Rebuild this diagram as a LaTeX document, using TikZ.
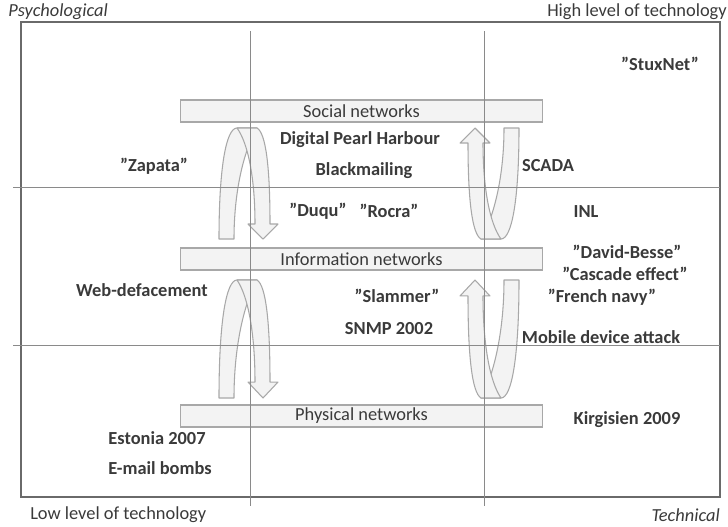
\documentclass[tikz,border=0pt]{standalone}
\usepackage{fontspec}
\setmainfont{Carlito}
\definecolor{txt}{HTML}{3A3A3A}
\definecolor{gridgray}{HTML}{8A8A8A}
\definecolor{boxgray}{HTML}{6A6A6A}
\definecolor{barfill}{HTML}{F3F3F3}
\definecolor{bardraw}{HTML}{A8A8A8}
\tikzset{
  lbl/.style={text=txt,font=\bfseries\fontsize{13.8}{16}\selectfont,inner sep=0pt},
  plain/.style={text=txt,font=\fontsize{13.8}{16}\selectfont,inner sep=0pt},
  slant/.style={text=txt,font=\itshape\fontsize{13.8}{16}\selectfont,inner sep=0pt},
  netbar/.style={draw=bardraw,fill=barfill,line width=0.9pt,text=txt,
    font=\fontsize{13.8}{16}\selectfont,minimum width=272pt,minimum height=16.5pt,inner sep=0pt},
  ribbon/.style={draw=bardraw,fill=barfill,line width=0.8pt,line join=round},
  gridline/.style={draw=gridgray,line width=0.6pt},
  loopdown/.pic={
    \filldraw[ribbon] (0,111) .. controls (0,40) and (7,0) .. (18,0) -- (38,0)
      .. controls (26,20) and (15,60) .. (15,111) -- cycle;
    \filldraw[ribbon] (18,0) -- (38,0) .. controls (47,5) and (51,40) .. (51,96)
      -- (59,96) -- (44,111) -- (29,96) -- (36,96)
      .. controls (36,50) and (29,15) .. (18,0) -- cycle;
  }
}
\begin{document}
\begin{tikzpicture}[x=0.75pt,y=-0.75pt]
  \useasboundingbox (0,0) rectangle (728,526);
  % frame
  \draw[boxgray,line width=1.1pt] (21,22) rectangle (720,497);
  % the three network layers
  \node[netbar] (social) at (361.5,111) {Social networks};
  \node[netbar] (info) at (361.5,259) {Information networks};
  \node[netbar] (phys) at (361.5,416) {Physical networks};
  % loops between layers
  \pic at (219,128) {loopdown};
  \pic[yscale=1.063] at (219,280) {loopdown};
  \pic[rotate=180] at (519,239) {loopdown};
  \pic[rotate=180,yscale=1.063] at (519,398) {loopdown};
  % grid
  \draw[gridline] (250,31) -- (250,506);
  \draw[gridline] (484,31) -- (484,506);
  \draw[gridline] (13,187) -- (720,187);
  \draw[gridline] (13,345) -- (720,345);
  % corner labels
  \node[slant,anchor=west] (psy) at (8,12) {Psychological};
  \node[plain,anchor=east] (high) at (727,12) {High level of technology};
  \node[plain,anchor=west] (low) at (30,515) {Low level of technology};
  \node[slant,anchor=east] (tech) at (720,515) {Technical};
  % attacks
  \node[lbl] (stux) at (660,64) {”StuxNet”};
  \node[lbl] (pearl) at (360,140) {Digital Pearl Harbour};
  \node[lbl] (black) at (364,171) {Blackmailing};
  \node[lbl] (zap) at (154,166) {”Zapata”};
  \node[lbl] (scada) at (548,166) {SCADA};
  \node[lbl] (duqu) at (318,211) {”Duqu”};
  \node[lbl] (rocra) at (389,211) {”Rocra”};
  \node[lbl] (inl) at (586,212) {INL};
  \node[lbl] (david) at (627,252) {”David-Besse”};
  \node[lbl] (casc) at (625,274) {”Cascade effect”};
  \node[lbl] (navy) at (602,297) {”French navy”};
  \node[lbl] (web) at (142,290) {Web-defacement};
  \node[lbl] (slam) at (397,296) {”Slammer”};
  \node[lbl] (snmp) at (389,329) {SNMP 2002};
  \node[lbl] (mobile) at (601,337) {Mobile device attack};
  \node[lbl] (kirg) at (627,420) {Kirgisien 2009};
  \node[lbl] (est) at (157,438) {Estonia 2007};
  \node[lbl] (mail) at (160,468) {E-mail bombs};
\end{tikzpicture}
\end{document}
